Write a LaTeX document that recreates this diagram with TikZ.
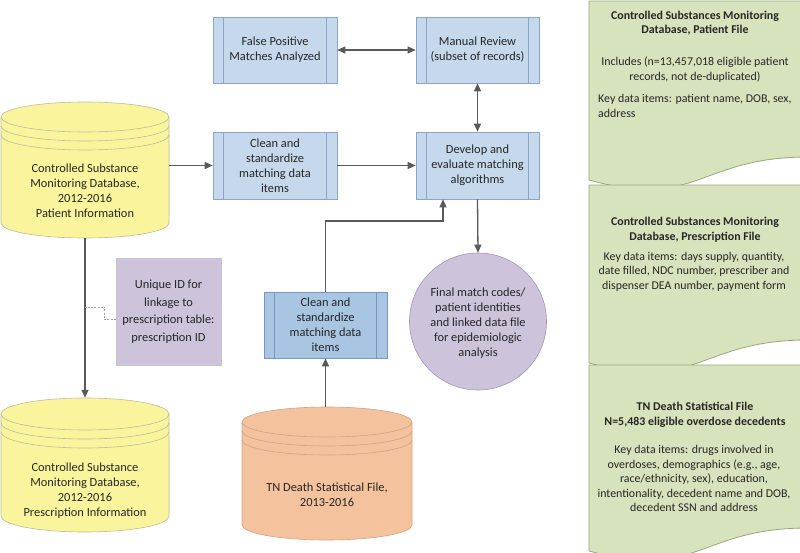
\documentclass[tikz,border=0pt]{standalone}
\usepackage{fontspec}
\setmainfont{Carlito}
\usetikzlibrary{arrows.meta,calc}
\definecolor{boxblue}{HTML}{C6D9EC}
\definecolor{boxblueB}{HTML}{A8C5E2}
\definecolor{boxline}{HTML}{8AA6C8}
\definecolor{boxlineB}{HTML}{7898BE}
\definecolor{cylyellow}{HTML}{FAF59C}
\definecolor{cylorange}{HTML}{F5C29E}
\definecolor{cylline}{HTML}{BDBBA0}
\definecolor{cyllineO}{HTML}{CDA688}
\definecolor{lav}{HTML}{CDC3DB}
\definecolor{lavline}{HTML}{A497B8}
\definecolor{pgreen}{HTML}{D7E3BC}
\definecolor{pgreenline}{HTML}{98A87C}
\definecolor{arrgray}{HTML}{5A5A5A}
\definecolor{dashgray}{HTML}{A5A5A5}
\newcommand\cylshape[7]{% cx, top, bottom, halfwidth, ry, fill, line
  \filldraw[fill=#6, draw=#7, line width=0.6pt]
    (#1-#4, #2+#5) -- (#1-#4, #3-#5)
    arc[start angle=180, end angle=0, x radius=#4, y radius=#5]
    -- (#1+#4, #2+#5)
    arc[start angle=0, end angle=-180, x radius=#4, y radius=#5] -- cycle;
  \draw[draw=#7, line width=0.6pt] (#1-#4, #2+#5) arc[start angle=180, end angle=0, x radius=#4, y radius=#5];
  \draw[draw=#7, line width=0.6pt] (#1-#4, #2+#5+9) arc[start angle=180, end angle=0, x radius=#4, y radius=#5];
  \draw[draw=#7, line width=0.6pt] (#1-#4, #2+#5+18) arc[start angle=180, end angle=0, x radius=#4, y radius=#5];
}
\newcommand\docshape[5]{% left, right, top, right-end y, left-end y
  \filldraw[fill=pgreen, draw=pgreenline, line width=0.8pt]
    (#1,#3) -- (#2,#3) -- (#2,#4)
    .. controls ({(#1+#2)/2},#4) and ({(#1+#2)/2},{#4+2.3*(#5-#4)}) .. (#1,#5) -- cycle;
}
\begin{document}
\begin{tikzpicture}[x=1pt,y=-1pt,
  every node/.style={font=\fontsize{12.4}{15}\selectfont, align=center, inner sep=0pt, text=black!85},
  proc/.style={draw=boxline, fill=boxblue, line width=0.6pt, minimum width=124pt, minimum height=66pt},
  procB/.style={proc, draw=boxlineB, fill=boxblueB},
  ghost/.style={draw=none, fill=none, minimum width=#1},
  ptext/.style={font=\fontsize{11.9}{14.5}\selectfont},
  ptitle/.style={font=\fontsize{11.9}{14.5}\selectfont\bfseries},
  arr/.style={draw=arrgray, line width=1.3pt, -{Triangle[length=8pt,width=7pt]}},
  darr/.style={draw=arrgray, line width=1.3pt, {Triangle[length=8pt,width=7pt]}-{Triangle[length=8pt,width=7pt]}},
  dashline/.style={draw=dashgray, line width=0.7pt, dash pattern=on 2pt off 1.2pt},
]
\fill[white] (0,0) rectangle (800,552);
\useasboundingbox (0,0) rectangle (800,552);

% right-hand panels
\docshape{589}{808}{1}{157}{180}
\docshape{589}{808}{185}{340}{363}
\docshape{589}{808}{365}{528}{551}
\node[ptitle] (p1title) at (695,23) {Controlled Substances Monitoring\\Database, Patient File};
\node[ptext] (p1inc) at (695,69.5) {Includes (n=13,457,018 eligible patient\\records, not de-duplicated)};
\node[ptext, align=left, anchor=west] (p1key) at (598,106) {Key data items: patient name, DOB, sex,\\address};
\node[ptitle] (p2title) at (695,230) {Controlled Substances Monitoring\\Database, Prescription File};
\node[ptext] (p2key) at (694,271.5) {Key data items: days supply, quantity,\\date filled, NDC number, prescriber and\\dispenser DEA number, payment form};
\node[ptitle] (p3title) at (695,415) {TN Death Statistical File\\N=5,483 eligible overdose decedents};
\node[ptext] (p3key) at (694,478.5) {Key data items: drugs involved in\\overdoses, demographics (e.g., age,\\race/ethnicity, sex), education,\\intentionality, decedent name and DOB,\\decedent SSN and address};

% cylinders
\cylshape{85}{102}{238}{84}{15}{cylyellow}{cylline}
\cylshape{85}{398}{532}{84}{16}{cylyellow}{cylline}
\cylshape{327}{407}{540}{85}{15}{cylorange}{cyllineO}
\node[ghost=168pt, minimum height=136pt] (cylP) at (85,170) {};
\node (cylPtext) at (85,191) {Controlled Substance\\Monitoring Database,\\2012-2016\\Patient Information};
\node[ghost=168pt, minimum height=134pt] (cylR) at (85,465) {};
\node (cylRtext) at (85,491) {Controlled Substance\\Monitoring Database,\\2012-2016\\Prescription Information};
\node[ghost=170pt, minimum height=133pt] (cylT) at (327,473.5) {};
\node (cylTtext) at (327,495) {TN Death Statistical File,\\2013-2016};

% process boxes
\node[proc] (fp) at (275,50) {False Positive\\Matches Analyzed};
\node[proc, minimum width=123pt] (mr) at (477.5,50) {Manual Review\\(subset of records)};
\node[proc, minimum height=67pt] (clean1) at (275,165.5) {Clean and\\standardize\\matching data\\items};
\node[proc, minimum width=123pt, minimum height=67pt] (dev) at (477.5,165.5) {Develop and\\evaluate matching\\algorithms};
\node[procB, minimum width=123pt] (clean2) at (325.5,325) {Clean and\\standardize\\matching data\\items};
\foreach \n/\c in {fp/boxline, mr/boxline, clean1/boxline, dev/boxline, clean2/boxlineB}{
  \draw[draw=\c, line width=0.6pt] ([xshift=11pt]\n.north west) -- ([xshift=11pt]\n.south west);
  \draw[draw=\c, line width=0.6pt] ([xshift=-11pt]\n.north east) -- ([xshift=-11pt]\n.south east);
}

% unique ID box and result circle
\node[draw=lav!80!black!60, fill=lav, line width=0.4pt, minimum width=105pt, minimum height=107pt,
      font=\fontsize{12.4}{17.5}\selectfont] (uid) at (168.5,311.5)
      {Unique ID for\\linkage to\\prescription table:\\prescription ID};
\node[circle, draw=lavline, fill=lav, line width=0.6pt, minimum size=137pt] (circ) at (478,321.5) {};
\node (circtext) at (478,323) {Final match codes/\\patient identities\\and linked data file\\for epidemiologic\\analysis};

% connectors
\draw[arr] (clean1.west -| cylP.east) -- (clean1.west);
\draw[arr] (clean1.east) -- (dev.west);
\draw[darr] (fp.east) -- (mr.west);
\draw[darr] (mr.south) -- (dev.north);
\draw[arr] (dev.south) -- (circ.north);
\coordinate (elb) at (443,221);
\draw[arr] (clean2.north) |- (elb) -- (elb |- dev.south);
\draw[arr] (clean2.south |- cylT.north) -- (clean2.south);
\draw[arr] (cylP.south) -- (cylR.north);
\draw[dashline] ([yshift=-8pt]uid.west) -- ++(-11,0) |- (cylP.south |- 0,307);
\end{tikzpicture}
\end{document}
